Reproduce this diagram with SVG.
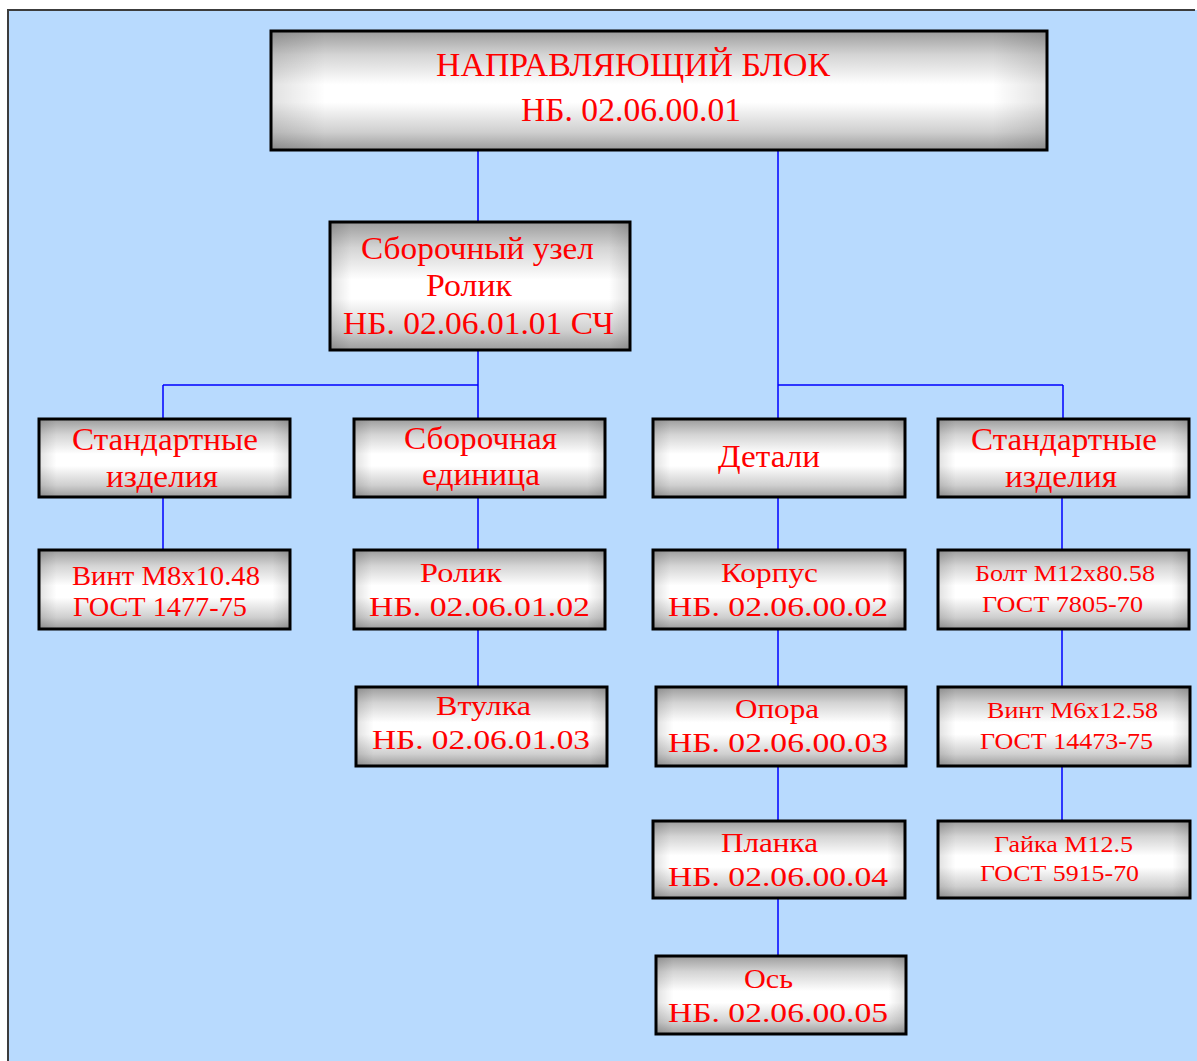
<svg xmlns="http://www.w3.org/2000/svg" width="1197" height="1061" viewBox="0 0 1197 1061">
<defs>
<linearGradient id="gv" x1="0" y1="0" x2="0" y2="1">
<stop offset="0" stop-color="#9c9c9c"/>
<stop offset="0.2" stop-color="#d4d4d4"/>
<stop offset="0.45" stop-color="#ffffff"/>
<stop offset="0.6" stop-color="#ffffff"/>
<stop offset="0.85" stop-color="#cfcfcf"/>
<stop offset="1" stop-color="#9c9c9c"/>
</linearGradient>
<linearGradient id="gh" x1="0" y1="0" x2="1" y2="0">
<stop offset="0" stop-color="#000" stop-opacity="0.12"/>
<stop offset="0.07" stop-color="#000" stop-opacity="0"/>
<stop offset="0.93" stop-color="#000" stop-opacity="0"/>
<stop offset="1" stop-color="#000" stop-opacity="0.12"/>
</linearGradient>
<style>
.box{fill:url(#gv);stroke:#000;stroke-width:3}
.ov{fill:url(#gh);stroke:none}
.t{font-family:"Liberation Serif","Times New Roman",serif;fill:#ff0000}
.conn line{stroke:#0000ff;stroke-width:1.5}
</style>
</defs>
<rect x="0" y="0" width="1197" height="1061" fill="#ffffff"/>
<rect x="8" y="10" width="1189" height="1051" fill="#b8dafe"/>
<line x1="7" y1="10" x2="1195" y2="10" stroke="#3c3c3c" stroke-width="2"/>
<line x1="8" y1="10" x2="8" y2="1061" stroke="#3c3c3c" stroke-width="2"/>

<g id="connectors" class="conn">
<line x1="478" y1="150" x2="478" y2="222"/>
<line x1="778" y1="150" x2="778" y2="419"/>
<line x1="478" y1="350" x2="478" y2="419"/>
<line x1="163" y1="385" x2="478" y2="385"/>
<line x1="163" y1="385" x2="163" y2="419"/>
<line x1="778" y1="385" x2="1063" y2="385"/>
<line x1="1063" y1="385" x2="1063" y2="419"/>
<line x1="163" y1="497" x2="163" y2="550"/>
<line x1="478" y1="497" x2="478" y2="550"/>
<line x1="478" y1="629" x2="478" y2="687"/>
<line x1="778" y1="497" x2="778" y2="550"/>
<line x1="778" y1="629" x2="778" y2="687"/>
<line x1="778" y1="766" x2="778" y2="821"/>
<line x1="778" y1="898" x2="778" y2="956"/>
<line x1="1062" y1="497" x2="1062" y2="550"/>
<line x1="1062" y1="629" x2="1062" y2="687"/>
<line x1="1062" y1="766" x2="1062" y2="821"/>
</g>

<g id="n-root">
<rect class="box" x="271" y="31" width="776" height="119"/>
<rect class="ov" x="271" y="31" width="776" height="119"/>
<text class="t" x="436" y="76" font-size="33" textLength="394" lengthAdjust="spacingAndGlyphs">НАПРАВЛЯЮЩИЙ БЛОК</text>
<text class="t" x="521" y="121" font-size="33" textLength="220" lengthAdjust="spacingAndGlyphs">НБ. 02.06.00.01</text>
</g>

<g id="n-uzel">
<rect class="box" x="330" y="222" width="300" height="128"/>
<rect class="ov" x="330" y="222" width="300" height="128"/>
<text class="t" x="361" y="259" font-size="31" textLength="233" lengthAdjust="spacingAndGlyphs">Сборочный узел</text>
<text class="t" x="426" y="296" font-size="31" textLength="86" lengthAdjust="spacingAndGlyphs">Ролик</text>
<text class="t" x="343" y="334" font-size="31" textLength="271" lengthAdjust="spacingAndGlyphs">НБ. 02.06.01.01 СЧ</text>
</g>

<g id="n-std1">
<rect class="box" x="39" y="419" width="251" height="78"/>
<rect class="ov" x="39" y="419" width="251" height="78"/>
<text class="t" x="72" y="450" font-size="31" textLength="186" lengthAdjust="spacingAndGlyphs">Стандартные</text>
<text class="t" x="106" y="487" font-size="31" textLength="112" lengthAdjust="spacingAndGlyphs">изделия</text>
</g>

<g id="n-sbe">
<rect class="box" x="354" y="419" width="251" height="78"/>
<rect class="ov" x="354" y="419" width="251" height="78"/>
<text class="t" x="404" y="449" font-size="31" textLength="153" lengthAdjust="spacingAndGlyphs">Сборочная</text>
<text class="t" x="422" y="485" font-size="31" textLength="118" lengthAdjust="spacingAndGlyphs">единица</text>
</g>

<g id="n-det">
<rect class="box" x="653" y="419" width="252" height="78"/>
<rect class="ov" x="653" y="419" width="252" height="78"/>
<text class="t" x="718" y="467" font-size="31" textLength="102" lengthAdjust="spacingAndGlyphs">Детали</text>
</g>

<g id="n-std2">
<rect class="box" x="938" y="419" width="251" height="78"/>
<rect class="ov" x="938" y="419" width="251" height="78"/>
<text class="t" x="971" y="450" font-size="31" textLength="186" lengthAdjust="spacingAndGlyphs">Стандартные</text>
<text class="t" x="1005" y="487" font-size="31" textLength="112" lengthAdjust="spacingAndGlyphs">изделия</text>
</g>

<g id="n-vint8">
<rect class="box" x="39" y="550" width="251" height="79"/>
<rect class="ov" x="39" y="550" width="251" height="79"/>
<text class="t" x="72" y="585" font-size="27" textLength="188" lengthAdjust="spacingAndGlyphs">Винт М8х10.48</text>
<text class="t" x="73" y="616" font-size="27" textLength="174" lengthAdjust="spacingAndGlyphs">ГОСТ 1477-75</text>
</g>

<g id="n-rolik">
<rect class="box" x="354" y="550" width="251" height="79"/>
<rect class="ov" x="354" y="550" width="251" height="79"/>
<text class="t" x="420" y="582" font-size="28" textLength="82" lengthAdjust="spacingAndGlyphs">Ролик</text>
<text class="t" x="369" y="616" font-size="28" textLength="221" lengthAdjust="spacingAndGlyphs">НБ. 02.06.01.02</text>
</g>

<g id="n-korpus">
<rect class="box" x="653" y="550" width="252" height="79"/>
<rect class="ov" x="653" y="550" width="252" height="79"/>
<text class="t" x="721" y="582" font-size="28" textLength="97" lengthAdjust="spacingAndGlyphs">Корпус</text>
<text class="t" x="668" y="616" font-size="28" textLength="220" lengthAdjust="spacingAndGlyphs">НБ. 02.06.00.02</text>
</g>

<g id="n-bolt">
<rect class="box" x="938" y="550" width="251" height="79"/>
<rect class="ov" x="938" y="550" width="251" height="79"/>
<text class="t" x="975" y="581" font-size="23" textLength="180" lengthAdjust="spacingAndGlyphs">Болт М12х80.58</text>
<text class="t" x="982" y="612" font-size="23" textLength="161" lengthAdjust="spacingAndGlyphs">ГОСТ 7805-70</text>
</g>

<g id="n-vtulka">
<rect class="box" x="356" y="687" width="251" height="79"/>
<rect class="ov" x="356" y="687" width="251" height="79"/>
<text class="t" x="436" y="715" font-size="28" textLength="95" lengthAdjust="spacingAndGlyphs">Втулка</text>
<text class="t" x="372" y="749" font-size="28" textLength="218" lengthAdjust="spacingAndGlyphs">НБ. 02.06.01.03</text>
</g>

<g id="n-opora">
<rect class="box" x="656" y="687" width="250" height="79"/>
<rect class="ov" x="656" y="687" width="250" height="79"/>
<text class="t" x="735" y="718" font-size="28" textLength="84" lengthAdjust="spacingAndGlyphs">Опора</text>
<text class="t" x="668" y="752" font-size="28" textLength="220" lengthAdjust="spacingAndGlyphs">НБ. 02.06.00.03</text>
</g>

<g id="n-vint6">
<rect class="box" x="938" y="687" width="252" height="79"/>
<rect class="ov" x="938" y="687" width="252" height="79"/>
<text class="t" x="987" y="718" font-size="23" textLength="171" lengthAdjust="spacingAndGlyphs">Винт М6х12.58</text>
<text class="t" x="980" y="749" font-size="23" textLength="173" lengthAdjust="spacingAndGlyphs">ГОСТ 14473-75</text>
</g>

<g id="n-planka">
<rect class="box" x="653" y="821" width="252" height="77"/>
<rect class="ov" x="653" y="821" width="252" height="77"/>
<text class="t" x="721" y="852" font-size="28" textLength="97" lengthAdjust="spacingAndGlyphs">Планка</text>
<text class="t" x="668" y="886" font-size="28" textLength="220" lengthAdjust="spacingAndGlyphs">НБ. 02.06.00.04</text>
</g>

<g id="n-gayka">
<rect class="box" x="938" y="821" width="252" height="77"/>
<rect class="ov" x="938" y="821" width="252" height="77"/>
<text class="t" x="994" y="852" font-size="23" textLength="139" lengthAdjust="spacingAndGlyphs">Гайка М12.5</text>
<text class="t" x="980" y="881" font-size="23" textLength="159" lengthAdjust="spacingAndGlyphs">ГОСТ 5915-70</text>
</g>

<g id="n-os">
<rect class="box" x="656" y="956" width="250" height="78"/>
<rect class="ov" x="656" y="956" width="250" height="78"/>
<text class="t" x="744" y="988" font-size="28" textLength="49" lengthAdjust="spacingAndGlyphs">Ось</text>
<text class="t" x="668" y="1022" font-size="28" textLength="220" lengthAdjust="spacingAndGlyphs">НБ. 02.06.00.05</text>
</g>
</svg>
